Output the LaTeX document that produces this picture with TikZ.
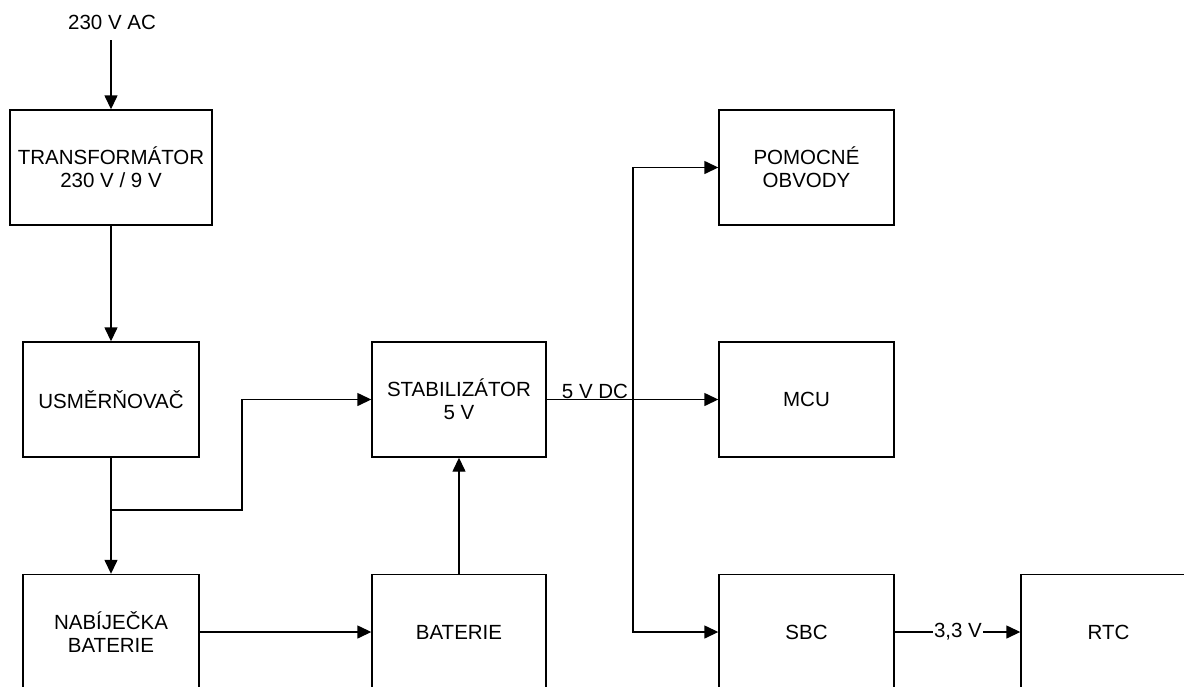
\documentclass[tikz,border=0pt]{standalone}
\usepackage{fontspec}
\setmainfont{Liberation Sans}
\usetikzlibrary{arrows.meta}
\begin{document}
\begin{tikzpicture}[x=1pt,y=-1pt,
  blk/.style={draw, line width=1.4pt, minimum height=115pt, align=center, inner sep=0pt,
    font=\fontsize{20.5}{23}\selectfont},
  lbl/.style={font=\fontsize{20.5}{23}\selectfont, inner sep=1pt},
  conn/.style={line width=1.4pt},
  arr/.style={conn, -{Triangle[length=14pt,width=13pt]}}]
\useasboundingbox (0,0) rectangle (1184,686);
\clip (0,0) rectangle (1184,686);
\fill[white] (0,0) rectangle (1184,686);
\node[blk, minimum width=202pt] (trafo) at (111,167.5) {TRANSFORMÁTOR\\230 V / 9 V};
\node[blk, minimum width=176pt] (usm) at (111,399.5) {USMĚRŇOVAČ};
\node[blk, minimum width=176pt] (nab) at (111,632) {NABÍJEČKA\\BATERIE};
\node[blk, minimum width=174pt] (stab) at (459,399.5) {STABILIZÁTOR\\5 V};
\node[blk, minimum width=174pt] (bat) at (459,632) {BATERIE};
\node[blk, minimum width=175pt] (pom) at (806.5,167.5) {POMOCNÉ\\OBVODY};
\node[blk, minimum width=175pt] (mcu) at (806.5,399.5) {MCU};
\node[blk, minimum width=175pt] (sbc) at (806.5,632) {SBC};
\node[blk, minimum width=175pt] (rtc) at (1108.5,632) {RTC};
\node[lbl] (ac) at (112,22) {230 V AC};
\coordinate (acend) at (111,40);
\coordinate (j) at (111,510);
\coordinate (bus) at (633,399.5);
\node[lbl, anchor=south] (dc) at (595,400) {5 V DC};
\node[lbl, fill=white] (v33) at (958,632) {3,3 V};
\draw[arr] (acend) -- (trafo.north);
\draw[arr] (trafo.south) -- (usm.north);
\draw[arr] (usm.south) -- (j) -- (nab.north);
\draw[arr] (j) -- (242,510) |- (stab.west);
\draw[arr] (nab.east |- bat.west) -- (bat.west);
\draw[arr] (bat.north) -- (stab.south);
\draw[arr] (stab.east) -- (mcu.west);
\draw[arr] (bus) |- (pom.west);
\draw[arr] (bus) |- (sbc.west);
\draw[conn] (sbc.east) -- (v33.west);
\draw[arr] (v33.east) -- (rtc.west);
\end{tikzpicture}
\end{document}
